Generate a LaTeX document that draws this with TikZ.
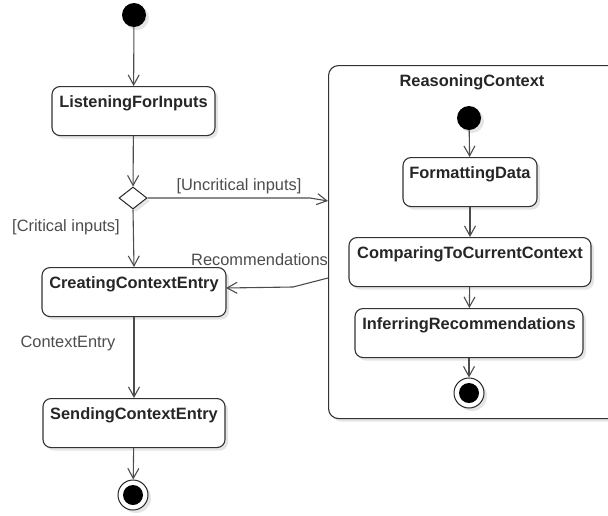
\documentclass[tikz,border=0pt]{standalone}
\usepackage{fontspec}
\setmainfont{Liberation Sans}
\usetikzlibrary{arrows.meta,shapes.geometric,shadows}
\begin{document}
\begin{tikzpicture}[x=1pt,y=-1pt,
  every node/.style={font=\fontsize{16.4}{19}\selectfont},
  shad/.style={drop shadow={shadow xshift=3pt,shadow yshift=-3pt,fill=black,opacity=0.1}},
  actbox/.style={draw=black!80,line width=1.1pt,rounded corners=8pt,fill=white,shad,
    font=\fontsize{16.4}{19}\selectfont\bfseries,text=black!85,
    text height=12pt,text depth=19pt,inner ysep=9pt,anchor=north},
  startdot/.style={circle,fill=black,minimum size=24pt,inner sep=0pt,shad},
  enddot/.style={circle,draw=black!85,line width=1pt,fill=white,minimum size=30pt,inner sep=0pt,shad,
    path picture={\fill[black] (path picture bounding box.center) circle (10pt);}},
  flow/.style={draw=black!70,line width=1.1pt,-{Straight Barb[length=10pt,width=11pt,line width=1.1pt]}},
  elabel/.style={text=black!70,inner sep=0pt}
]
\useasboundingbox (0,0) rectangle (608,515);

% container
\node[draw=black!80,line width=1.1pt,rounded corners=10pt,fill=white,shad,
  minimum width=290pt,minimum height=353pt,anchor=north west,inner sep=0pt] (rc) at (328,65) {};
\node[font=\fontsize{16.4}{19}\selectfont\bfseries,text=black!85] (rctitle) at (472,82) {ReasoningContext};

% main flow
\node[startdot] (s0) at (134,15) {};
\node[actbox,minimum width=163pt] (lfi) at (133.5,86) {ListeningForInputs};
\node[diamond,draw=black!85,line width=1pt,fill=white,minimum width=28pt,minimum height=22pt,inner sep=0pt,shad] (dia) at (133,198) {};
\node[actbox,minimum width=184pt] (cce) at (134,267) {CreatingContextEntry};
\node[actbox,minimum width=182pt] (sce) at (134,398) {SendingContextEntry};
\node[enddot] (e0) at (133,495) {};

% inner flow
\node[startdot] (i0) at (469,118) {};
\node[actbox,minimum width=134pt] (fd) at (470,157) {FormattingData};
\node[actbox,minimum width=242pt] (cmp) at (470,237) {ComparingToCurrentContext};
\node[actbox,minimum width=228pt] (inf) at (469,308) {InferringRecommendations};
\node[enddot] (ie0) at (469,393) {};

% helper points
\coordinate (ubend) at (310,198);
\coordinate (uin) at (328,201);
\coordinate (rout) at (328,278);
\coordinate (rbend) at (293,287);
\coordinate (cin) at (226,288);

% connectors
\draw[flow] (s0) -- (lfi);
\draw[flow] (lfi) -- (dia);
\draw[flow] (dia.east) -- (ubend) -- (uin);
\draw[flow] (dia.south) -- (cce.north);
\draw[flow] (rout) -- (rbend) -- (cin);
\draw[flow] (cce) -- (sce);
\draw[flow] (sce) -- (e0);

\draw[flow] (i0) -- (fd);
\draw[flow] (fd) -- (cmp);
\draw[flow] (cmp) -- (inf);
\draw[flow] (inf) -- (ie0);

% labels
\node[elabel] (lunc) at (239,186) {[Uncritical inputs]};
\node[elabel] (lcrit) at (66,227) {[Critical inputs]};
\node[elabel,anchor=west] (lrec) at (191,260) {Recommendations};
\node[elabel] (lce) at (68,343) {ContextEntry};
\end{tikzpicture}
\end{document}
